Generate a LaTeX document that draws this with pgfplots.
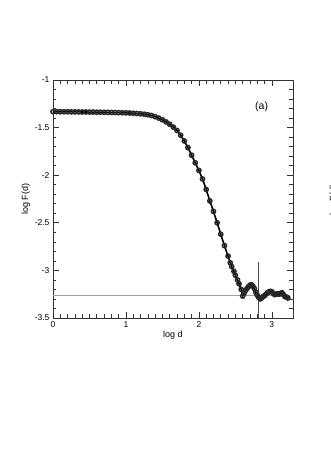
\documentclass[border=0pt]{standalone}
\usepackage{fontspec}
\setmainfont{Liberation Sans}
\usepackage{pgfplots}
\pgfplotsset{compat=1.18}

\begin{document}
\begin{tikzpicture}[x=1pt,y=1pt]
\path (0,0) rectangle (331,467);
% sliver of the neighbouring panel's label at the right edge
\node[overlay, rotate=90, anchor=north, inner sep=0pt, font=\fontsize{9}{10}\selectfont] at (329.5,267) {log F(d)};
\begin{axis}[
    at={(53pt,149pt)}, anchor=south west,
    scale only axis, width=240pt, height=238pt,
    xmin=0, xmax=3.29, ymin=-3.5, ymax=-1,
    xtick={0,1,2,3}, ytick={-3.5,-3,-2.5,-2,-1.5,-1},
    minor x tick num=9, minor y tick num=4,
    tick align=inside, ticks=both,
    xtick pos=both, ytick pos=both,
    major tick length=6pt, minor tick length=3.5pt,
    every tick/.style={black!80, line width=0.6pt},
    axis line style={black!80, line width=0.8pt},
    /pgf/number format/assume math mode=true,
    tick label style={font=\fontsize{8.5}{10}\selectfont},
    label style={font=\fontsize{9}{10}\selectfont},
    xlabel={log d}, ylabel={log F(d)},
    xlabel style={yshift=3pt},
    ylabel style={yshift=-2pt},
]
\addplot[gray!75, line width=0.8pt] coordinates {(0,-3.26) (3.25,-3.26)};
\addplot[black!70, line width=0.6pt] coordinates {(2.82,-2.91) (2.82,-3.5)};
\addplot[black, line width=1.6pt, mark=o, mark size=2.1pt, mark options={black!85, line width=1.5pt}] coordinates {
(0.00,-1.333) (0.05,-1.333) (0.10,-1.334) (0.15,-1.334) (0.20,-1.334) (0.25,-1.335)
(0.30,-1.335) (0.35,-1.335) (0.40,-1.336) (0.45,-1.336) (0.50,-1.337) (0.55,-1.337)
(0.60,-1.338) (0.65,-1.338) (0.70,-1.339) (0.75,-1.340) (0.80,-1.341) (0.85,-1.342)
(0.90,-1.343) (0.95,-1.344) (1.00,-1.345) (1.05,-1.347) (1.10,-1.349) (1.15,-1.352)
(1.20,-1.355) (1.25,-1.359) (1.30,-1.365) (1.35,-1.373) (1.40,-1.385) (1.45,-1.400)
(1.50,-1.418) (1.55,-1.440) (1.60,-1.465) (1.65,-1.495) (1.70,-1.530) (1.75,-1.580)
(1.80,-1.640) (1.85,-1.710) (1.90,-1.790) (1.95,-1.870) (2.00,-1.950) (2.05,-2.040)
(2.10,-2.150) (2.15,-2.270) (2.20,-2.380) (2.25,-2.500) (2.30,-2.620) (2.35,-2.740)
(2.40,-2.850) (2.43,-2.920) (2.45,-2.960) (2.48,-3.010) (2.50,-3.050) (2.53,-3.100)
(2.55,-3.140) (2.58,-3.200) (2.60,-3.270) (2.62,-3.240) (2.64,-3.210) (2.66,-3.190)
(2.68,-3.170) (2.70,-3.155) (2.72,-3.150) (2.74,-3.165) (2.76,-3.190) (2.78,-3.230)
(2.80,-3.260) (2.82,-3.285) (2.84,-3.300) (2.86,-3.290) (2.88,-3.275) (2.90,-3.265)
(2.92,-3.250) (2.94,-3.235) (2.96,-3.225) (2.98,-3.220) (3.00,-3.225) (3.02,-3.240)
(3.04,-3.255) (3.06,-3.250) (3.08,-3.245) (3.10,-3.250) (3.12,-3.240) (3.14,-3.235)
(3.16,-3.255) (3.18,-3.275) (3.20,-3.280) (3.22,-3.290)
};
\node[font=\fontsize{10.5}{12}\selectfont] at (axis cs:2.86,-1.28) {(a)};
\end{axis}
\end{tikzpicture}
\end{document}
